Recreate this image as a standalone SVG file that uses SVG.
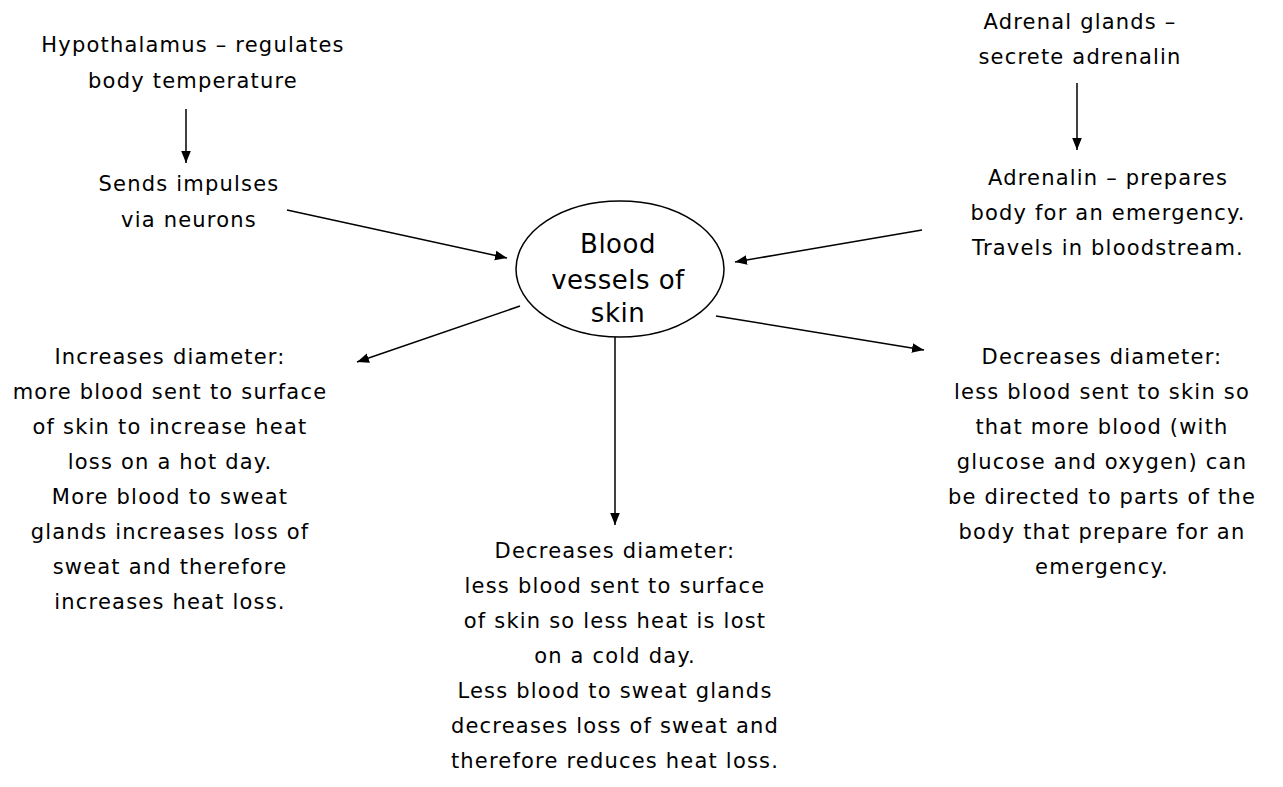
<svg xmlns="http://www.w3.org/2000/svg" width="1283" height="787" viewBox="0 0 1283 787">
<style>
text{font-family:"DejaVu Sans","Liberation Sans",sans-serif;font-size:21px;letter-spacing:1.2px;fill:#000;text-anchor:middle}
.big{font-size:26px;letter-spacing:0.5px}
.edge{stroke:#000;stroke-width:1.5;fill:none;marker-end:url(#ah)}
</style>
<defs>
<marker id="ah" viewBox="0 0 10 10" refX="10" refY="5" markerWidth="12" markerHeight="12" markerUnits="userSpaceOnUse" orient="auto">
<path d="M0,1 L10,5 L0,9 z" fill="#000"/>
</marker>
</defs>
<rect width="1283" height="787" fill="#fff"/>
<g id="connectors">
<line class="edge" x1="186" y1="109" x2="186" y2="163"/>
<line class="edge" x1="1077" y1="83" x2="1077" y2="150"/>
<line class="edge" x1="287" y1="210" x2="507" y2="258"/>
<line class="edge" x1="922" y1="230" x2="735" y2="262"/>
<line class="edge" x1="520" y1="306" x2="357" y2="362"/>
<line class="edge" x1="615" y1="337" x2="615" y2="525"/>
<line class="edge" x1="716" y1="316" x2="924" y2="350"/>
</g>
<g id="center">
<ellipse cx="620" cy="269" rx="104" ry="68" fill="#fff" stroke="#000" stroke-width="1.5"/>
<text class="big" x="618" y="253">Blood</text>
<text class="big" x="618" y="289">vessels of</text>
<text class="big" x="618" y="322">skin</text>
</g>
<g id="hypothalamus">
<text x="193" y="52">Hypothalamus – regulates</text>
<text x="193" y="88">body temperature</text>
</g>
<g id="impulses">
<text x="189" y="191">Sends impulses</text>
<text x="189" y="227">via neurons</text>
</g>
<g id="adrenal">
<text x="1080" y="29">Adrenal glands –</text>
<text x="1080" y="64">secrete adrenalin</text>
</g>
<g id="adrenalin">
<text x="1108" y="185">Adrenalin – prepares</text>
<text x="1108" y="220">body for an emergency.</text>
<text x="1108" y="255">Travels in bloodstream.</text>
</g>
<g id="increase">
<text x="170" y="364">Increases diameter:</text>
<text x="170" y="399">more blood sent to surface</text>
<text x="170" y="434">of skin to increase heat</text>
<text x="170" y="469">loss on a hot day.</text>
<text x="170" y="504">More blood to sweat</text>
<text x="170" y="539">glands increases loss of</text>
<text x="170" y="574">sweat and therefore</text>
<text x="170" y="609">increases heat loss.</text>
</g>
<g id="decrease-cold">
<text x="615" y="558">Decreases diameter:</text>
<text x="615" y="593">less blood sent to surface</text>
<text x="615" y="628">of skin so less heat is lost</text>
<text x="615" y="663">on a cold day.</text>
<text x="615" y="698">Less blood to sweat glands</text>
<text x="615" y="733">decreases loss of sweat and</text>
<text x="615" y="768">therefore reduces heat loss.</text>
</g>
<g id="decrease-emergency">
<text x="1102" y="364">Decreases diameter:</text>
<text x="1102" y="399">less blood sent to skin so</text>
<text x="1102" y="434">that more blood (with</text>
<text x="1102" y="469">glucose and oxygen) can</text>
<text x="1102" y="504">be directed to parts of the</text>
<text x="1102" y="539">body that prepare for an</text>
<text x="1102" y="574">emergency.</text>
</g>
</svg>
